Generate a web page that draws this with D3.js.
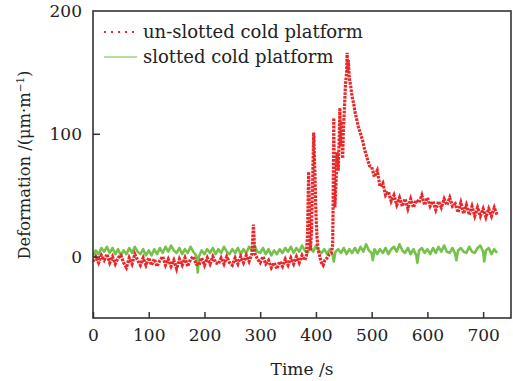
<!DOCTYPE html>
<html>
<head>
<meta charset="utf-8">
<script src="https://cdn.jsdelivr.net/npm/d3@7"></script>
<style>
  body { margin: 0; background: #fff; }
  svg text { font-family: "DejaVu Serif", serif; fill: #222; }
</style>
</head>
<body>
<div id="chart"></div>
<script>
// x ticks / y ticks
const xTicks = [0, 100, 200, 300, 400, 500, 600, 700];
const yTicks = [0, 100, 200];

// un-slotted cold platform (red, dotted) - time (s)
const redTime = [0,5,10,15,20,25,30,35,40,45,50,55,60,65,70,75,80,85,90,95,
  100,105,110,115,120,125,130,135,140,145,150,155,160,165,170,175,180,185,190,195,
  200,205,210,215,220,225,230,235,240,245,250,255,260,265,270,275,280,285,288,290,295,
  300,305,310,315,320,325,330,335,340,345,350,355,360,365,370,375,380,
  383,385,386,387,388,389,390,392,394,396,398,400,402,404,406,408,410,413,416,420,424,428,
  430,431,432,433,434,436,438,440,442,443,444,446,448,449,451,453,455,456,457,458,
  460,462,465,468,470,473,476,480,484,488,492,496,
  500,505,510,515,520,525,530,535,540,545,550,555,560,565,570,575,580,585,590,595,
  600,605,610,615,620,625,630,635,640,645,650,655,660,665,670,675,680,685,690,695,
  700,705,710,715,720,725];
const redVal = [-4,0,-5,1,-3,2,-5,0,-6,-1,1,-5,-9,-1,-6,2,-3,-7,-1,-7,
  -1,-7,-2,-8,-3,0,-7,-2,-8,-3,-10,-2,-7,-1,-8,-2,0,-6,-7,-1,
  -7,-1,-6,0,-5,-6,-1,-6,0,-5,-7,-1,-6,0,-5,1,-4,2,26,3,-2,
  -5,0,-6,-3,-9,-5,-10,-4,-8,-2,-7,-1,-6,0,-5,1,-3,
  1,20,45,69,40,15,5,20,60,101,70,35,15,5,2,-2,-5,-7,-3,-1,2,3,
  10,50,113,70,40,60,85,70,100,121,90,110,80,100,120,140,150,166,150,160,
  145,140,130,124,118,112,106,100,94,86,80,74,
  73,65,70,57,60,50,53,45,50,42,48,41,47,39,47,40,46,44,50,42,
  48,41,45,38,45,40,47,42,48,41,43,36,44,35,42,34,41,33,40,33,
  39,32,39,33,40,34];

// slotted cold platform (green, solid) - time (s)
const greenTime = [0,5,10,15,20,25,30,35,40,45,50,55,60,65,70,75,80,85,90,95,
  100,105,110,115,120,125,130,135,140,145,150,155,160,165,170,175,180,185,188,190,195,
  200,205,210,215,220,225,230,235,240,245,250,255,260,265,270,275,280,285,290,295,
  300,305,310,315,320,325,330,335,340,345,350,355,360,365,370,375,380,385,390,395,
  400,405,410,415,420,425,430,432,435,440,445,450,455,460,465,470,475,480,485,490,495,
  500,502,505,510,515,520,525,530,535,540,545,550,555,560,565,570,575,580,582,585,590,595,
  600,605,610,615,620,625,630,635,640,645,650,652,655,660,665,670,675,680,685,690,695,
  700,702,705,710,715,720,725];
const greenVal = [1,5,2,7,4,8,3,7,2,6,1,5,2,7,3,8,4,2,6,1,
  5,1,6,2,7,3,8,4,9,5,3,7,2,6,3,8,4,1,-13,0,5,
  2,6,3,7,2,6,3,8,4,2,6,3,7,2,6,3,8,5,9,4,
  3,7,2,6,1,5,2,6,3,7,4,8,3,7,4,9,5,3,8,4,
  9,5,3,6,2,6,1,-4,4,6,3,7,2,6,3,7,3,8,4,10,5,
  3,-3,6,2,6,3,7,2,6,8,4,10,5,3,7,2,6,1,-5,5,7,3,
  6,2,7,3,8,4,9,4,3,7,2,-3,5,7,4,3,8,4,3,7,9,
  4,-4,5,7,2,6,3];

const legendLabels = ["un-slotted cold platform", "slotted cold platform"];
const redColor = "#e8292b";
const greenColor = "#74c24a";

const width = 513, height = 381;
const margin = { top: 11, right: 2, bottom: 63, left: 93 };
const plotW = width - margin.left - margin.right;
const plotH = height - margin.top - margin.bottom;

const svg = d3.select("#chart").append("svg")
  .attr("width", width)
  .attr("height", height);

const plot = svg.append("g")
  .attr("transform", "translate(" + margin.left + "," + margin.top + ")");

const x = d3.scaleLinear().domain([0, 750]).range([0, plotW]);
const y = d3.scaleLinear().domain([-50, 200]).range([plotH, 0]);

// clip so noisy lines stay inside the frame
plot.append("clipPath").attr("id", "clip")
  .append("rect").attr("width", plotW).attr("height", plotH);

const line = d3.line()
  .x(d => x(d[0]))
  .y(d => y(d[1]));

const greenData = greenTime.map((t, i) => [t, greenVal[i]]);
const redData = redTime.map((t, i) => [t, redVal[i]]);

plot.append("path")
  .datum(greenData)
  .attr("clip-path", "url(#clip)")
  .attr("fill", "none")
  .attr("stroke", greenColor)
  .attr("stroke-width", 2.6)
  .attr("stroke-linejoin", "round")
  .attr("d", line);

plot.append("path")
  .datum(redData)
  .attr("clip-path", "url(#clip)")
  .attr("fill", "none")
  .attr("stroke", redColor)
  .attr("stroke-width", 3.2)
  .attr("stroke-dasharray", "2.6,1.1")
  .attr("d", line);

// axes, ticks pointing inward
const xAxis = plot.append("g")
  .attr("transform", "translate(0," + plotH + ")")
  .call(d3.axisBottom(x).tickValues(xTicks).tickSize(-6).tickPadding(11));

const yAxis = plot.append("g")
  .call(d3.axisLeft(y).tickValues(yTicks).tickSize(-7).tickPadding(11));

[xAxis, yAxis].forEach(a => {
  a.select(".domain").remove();
  a.selectAll(".tick line").attr("stroke", "#333").attr("stroke-width", 1.5);
  a.selectAll(".tick text")
    .style("font-family", "DejaVu Serif, serif")
    .style("font-size", "17px")
    .attr("fill", "#222");
});
yAxis.select(".tick:last-of-type line").remove();

// frame
plot.append("rect")
  .attr("width", plotW)
  .attr("height", plotH)
  .attr("fill", "none")
  .attr("stroke", "#333")
  .attr("stroke-width", 1.6);

// axis titles
svg.append("text")
  .attr("x", margin.left + plotW / 2)
  .attr("y", 375)
  .attr("text-anchor", "middle")
  .style("font-size", "17px")
  .text("Time /s");

svg.append("text")
  .attr("transform", "translate(30,165) rotate(-90)")
  .attr("text-anchor", "middle")
  .style("font-size", "16.3px")
  .html("Deformation /(μm·m<tspan dy='-6' font-size='10.5px'>−1</tspan><tspan dy='6'>)</tspan>");

// legend
const legend = svg.append("g").attr("transform", "translate(104,32)");
legendLabels.forEach((label, i) => {
  const row = legend.append("g").attr("transform", "translate(0," + (i * 25) + ")");
  row.append("line")
    .attr("x1", 0).attr("x2", i === 0 ? 30 : 33)
    .attr("stroke", i === 0 ? redColor : "#9fd47f")
    .attr("stroke-width", i === 0 ? 2 : 1.3)
    .attr("stroke-dasharray", i === 0 ? "2,5" : null);
  row.append("text")
    .attr("x", 39)
    .attr("dy", "0.35em")
    .style("font-size", "18px")
    .text(label);
});
</script>
</body>
</html>
